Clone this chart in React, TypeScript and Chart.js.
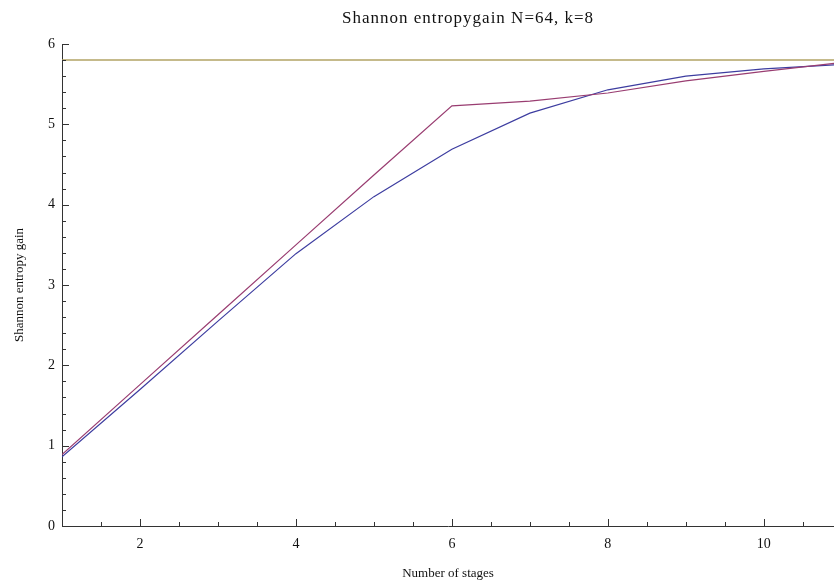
import React, { useEffect, useRef } from "react";
import { Chart, registerables } from "chart.js";

Chart.register(...registerables);

// ---- data ----
const stages = [1, 2, 3, 4, 5, 6, 7, 8, 9, 10, 11];
const blueSeries = [0.86, 1.7, 2.55, 3.39, 4.1, 4.69, 5.14, 5.43, 5.6, 5.69, 5.745];
const redSeries = [0.89, 1.76, 2.63, 3.5, 4.37, 5.23, 5.29, 5.39, 5.54, 5.66, 5.77];
const maxEntropy = 5.8;
const xTickLabels = [2, 4, 6, 8, 10];
const yTickLabels = [0, 1, 2, 3, 4, 5, 6];

const titleText = "Shannon entropygain N=64, k=8";
const xTitle = "Number of stages";
const yTitle = "Shannon entropy gain";

const FONT = "'Liberation Serif', 'Times New Roman', serif";
const near = (v: number, list: number[]) => list.some((t) => Math.abs(t - v) < 1e-6);

const innerTicks = {
  id: "innerTicks",
  afterDatasetsDraw(chart: any) {
    const { ctx, chartArea, scales } = chart;
    ctx.save();
    ctx.strokeStyle = "#333";
    ctx.lineWidth = 1;
    scales.x.ticks.forEach((t: any) => {
      if (t.value <= scales.x.min + 1e-6) return;
      const px = Math.round(scales.x.getPixelForValue(t.value)) + 0.5;
      const len = near(t.value, xTickLabels) ? 7 : 4;
      ctx.beginPath();
      ctx.moveTo(px, chartArea.bottom);
      ctx.lineTo(px, chartArea.bottom - len);
      ctx.stroke();
    });
    scales.y.ticks.forEach((t: any) => {
      if (t.value <= scales.y.min + 1e-6) return;
      const py = Math.round(scales.y.getPixelForValue(t.value)) + 0.5;
      const len = near(t.value, yTickLabels) ? 7 : 4;
      ctx.beginPath();
      ctx.moveTo(chartArea.left, py);
      ctx.lineTo(chartArea.left + len, py);
      ctx.stroke();
    });
    ctx.restore();
  },
};

const spacedTitle = {
  id: "spacedTitle",
  afterDraw(chart: any) {
    const { ctx, chartArea } = chart;
    ctx.save();
    ctx.font = `17px ${FONT}`;
    ctx.fillStyle = "#111";
    ctx.textAlign = "center";
    ctx.textBaseline = "middle";
    try {
      (ctx as any).letterSpacing = "1px";
    } catch (e) {}
    ctx.fillText(titleText, chartArea.left + 406, 19);
    ctx.restore();
  },
};

export default function App() {
  const ref = useRef<HTMLCanvasElement | null>(null);

  useEffect(() => {
    if (!ref.current) return;
    const chart = new Chart(ref.current, {
      type: "line",
      data: {
        datasets: [
          {
            label: "max",
            data: [
              { x: stages[0], y: maxEntropy },
              { x: stages[stages.length - 1], y: maxEntropy },
            ],
            borderColor: "rgb(178,163,100)",
            borderWidth: 1.6,
            pointRadius: 0,
            tension: 0,
          },
          {
            label: "red",
            data: stages.map((x, i) => ({ x, y: redSeries[i] })),
            borderColor: "rgb(153,61,113)",
            borderWidth: 1.2,
            pointRadius: 0,
            tension: 0,
          },
          {
            label: "blue",
            data: stages.map((x, i) => ({ x, y: blueSeries[i] })),
            borderColor: "rgb(61,61,160)",
            borderWidth: 1.2,
            pointRadius: 0,
            tension: 0,
          },
        ],
      },
      options: {
        animation: false,
        responsive: false,
        events: [],
        layout: { padding: { top: 44, left: 0, right: 0, bottom: 0 } },
        plugins: {
          legend: { display: false },
          tooltip: { enabled: false },
          title: { display: false },
        },
        scales: {
          x: {
            type: "linear",
            min: 1,
            max: 10.9,
            afterFit: (s: any) => {
              s.height = 56;
            },
            grid: { drawOnChartArea: false, drawTicks: false },
            border: { display: true, color: "#333", width: 1 },
            ticks: {
              stepSize: 0.5,
              includeBounds: false,
              autoSkip: false,
              maxRotation: 0,
              padding: 10,
              color: "#111",
              font: { family: FONT, size: 14 },
              callback: (v: any) => (near(Number(v), xTickLabels) ? String(Math.round(Number(v))) : ""),
            },
            title: {
              display: true,
              text: xTitle,
              color: "#111",
              font: { family: FONT, size: 13 },
              padding: { top: 0, bottom: 1 },
            },
          },
          y: {
            type: "linear",
            min: 0,
            max: 6,
            afterFit: (s: any) => {
              s.width = 62;
            },
            grid: { drawOnChartArea: false, drawTicks: false },
            border: { display: true, color: "#333", width: 1 },
            ticks: {
              stepSize: 0.2,
              autoSkip: false,
              padding: 7,
              color: "#111",
              font: { family: FONT, size: 14 },
              callback: (v: any) => (near(Number(v), yTickLabels) ? String(Math.round(Number(v))) : ""),
            },
            title: {
              display: true,
              text: yTitle,
              color: "#111",
              font: { family: FONT, size: 13 },
              padding: { top: 12, bottom: 0 },
            },
          },
        },
      },
      plugins: [innerTicks, spacedTitle],
    } as any);
    return () => chart.destroy();
  }, []);

  return (
    <div style={{ position: "absolute", left: 0, top: 0, width: 834, height: 582, background: "#fff" }}>
      <canvas ref={ref} width={834} height={582} style={{ display: "block" }} />
    </div>
  );
}
